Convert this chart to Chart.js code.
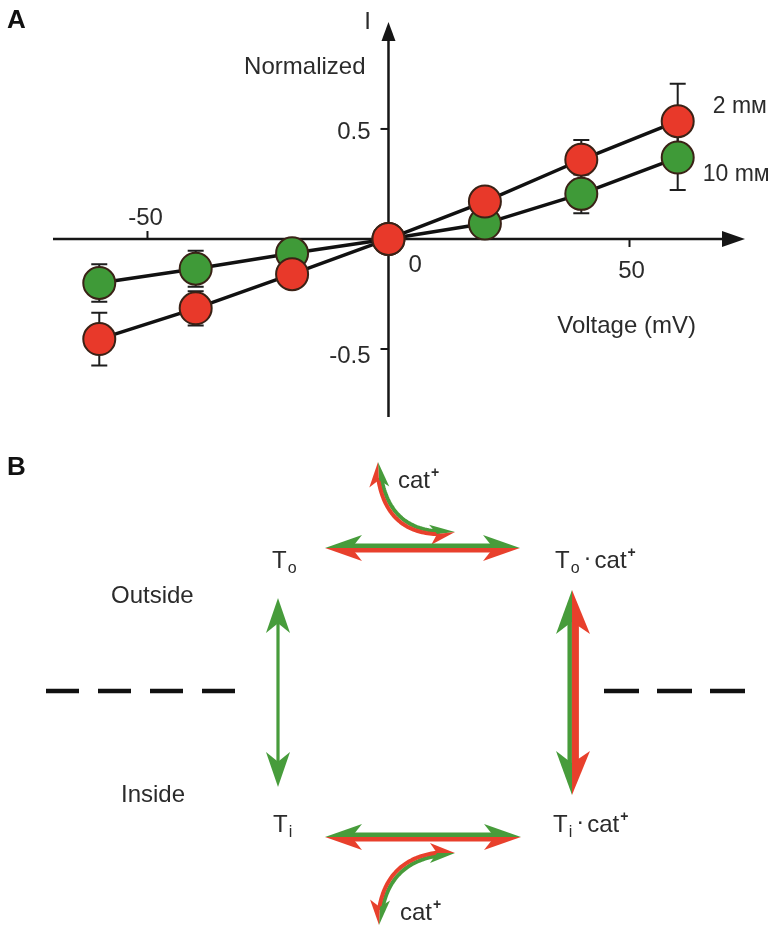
<!DOCTYPE html>
<html><head><meta charset="utf-8">
<script src="https://cdn.jsdelivr.net/npm/chart.js@4.4.1/dist/chart.umd.min.js"></script>
<style>html,body{margin:0;padding:0;background:#fff;} #wrap{width:775px;height:928px;position:relative;}</style>
</head><body><div id="wrap"><canvas id="c" width="775" height="928"></canvas></div>
<script>
// ---------- Panel A data ----------
const voltages = [-60, -40, -20, 0, 20, 40, 60];
const current2mM = [-0.455, -0.315, -0.16, 0, 0.17, 0.36, 0.535];
const current10mM = [-0.20, -0.135, -0.065, 0, 0.07, 0.205, 0.37];
const err2mM = [0.12, 0.078, 0.03, 0, 0.03, 0.09, 0.17];
const err10mM = [0.085, 0.082, 0.03, 0, 0.03, 0.088, 0.148];
const seriesLabels = ['2 mᴍ', '10 mᴍ'];
const xTicks = [-50, 0, 50];
const yTicks = [-0.5, 0.5];
const xTitle = 'Voltage (mV)';
const yTitle = ['I', 'Normalized'];

const FONT = '"Liberation Sans", Arial, Helvetica, sans-serif';
const TXT = '#2b2b2b';
const RED = '#e8402c', GREEN = '#479c3b';
const RED_PT = '#e8392a', GREEN_PT = '#3f9a38', PT_EDGE = '#3a2216';

function txt(ctx, s, x, y, size, align, weight, color) {
  ctx.font = (weight || 'normal') + ' ' + size + 'px ' + FONT;
  ctx.textAlign = align || 'left';
  ctx.textBaseline = 'alphabetic';
  ctx.fillStyle = color || TXT;
  ctx.fillText(s, x, y);
  return ctx.measureText(s).width;
}

// ---------- Panel B helpers ----------
function head(ctx, tx, ty, dx, dy, wx, wy, L, W, color) {
  ctx.fillStyle = color;
  ctx.beginPath();
  ctx.moveTo(tx, ty);
  ctx.lineTo(tx - dx * L + wx * W, ty - dy * L + wy * W);
  ctx.lineTo(tx - dx * L * 0.72, ty - dy * L * 0.72);
  ctx.closePath();
  ctx.fill();
}
function straight(ctx, x1, y1, x2, y2, parts, L, W) {
  const len = Math.hypot(x2 - x1, y2 - y1);
  const dx = (x2 - x1) / len, dy = (y2 - y1) / len;
  const nx = -dy, ny = dx;
  parts.forEach(p => {
    ctx.strokeStyle = p.color; ctx.lineWidth = p.width; ctx.lineCap = 'butt';
    ctx.beginPath();
    ctx.moveTo(x1 + dx * L * 0.6 + nx * p.off, y1 + dy * L * 0.6 + ny * p.off);
    ctx.lineTo(x2 - dx * L * 0.6 + nx * p.off, y2 - dy * L * 0.6 + ny * p.off);
    ctx.stroke();
  });
  parts.forEach(p => {
    const sides = p.off === 0 ? [1, -1] : [Math.sign(p.off)];
    sides.forEach(s => {
      head(ctx, x2, y2, dx, dy, nx * s, ny * s, L, p.W || W, p.color);
      head(ctx, x1, y1, -dx, -dy, nx * s, ny * s, L, p.W || W, p.color);
    });
  });
}
function curve(ctx, P0, C, P2, parts, L, W) {
  const q = (t, o) => {
    const a = (1 - t) * (1 - t), b = 2 * (1 - t) * t, c = t * t;
    return [a * (P0[0] + o[0]) + b * (C[0] + o[0]) + c * (P2[0] + o[0]),
            a * (P0[1] + o[1]) + b * (C[1] + o[1]) + c * (P2[1] + o[1])];
  };
  parts.forEach(p => {
    ctx.strokeStyle = p.color; ctx.lineWidth = p.width; ctx.lineCap = 'butt'; ctx.lineJoin = 'round';
    ctx.beginPath();
    for (let i = 0; i <= 50; i++) {
      const t = 0.1 + 0.8 * i / 50;
      const pt = q(t, p.o);
      if (i === 0) ctx.moveTo(pt[0], pt[1]); else ctx.lineTo(pt[0], pt[1]);
    }
    ctx.stroke();
  });
  const ends = [[P0, [P0[0] - C[0], P0[1] - C[1]]], [P2, [P2[0] - C[0], P2[1] - C[1]]]];
  parts.forEach(p => {
    ends.forEach(([T, d]) => {
      const l = Math.hypot(d[0], d[1]);
      const dx = d[0] / l, dy = d[1] / l;
      let wx = -dy, wy = dx;
      if (wx * p.o[0] + wy * p.o[1] < 0) { wx = -wx; wy = -wy; }
      head(ctx, T[0], T[1], dx, dy, wx, wy, L, W, p.color);
    });
  });
}
function dashed(ctx, x1, x2, y, dash, gap) {
  ctx.save();
  ctx.strokeStyle = '#111'; ctx.lineWidth = 4.5; ctx.setLineDash([dash, gap]); ctx.lineCap = 'butt';
  ctx.beginPath(); ctx.moveTo(x1, y); ctx.lineTo(x2, y); ctx.stroke();
  ctx.restore();
}
function species(ctx, x, y, sub, withCat) {
  let w = txt(ctx, 'T', x, y, 24);
  let cx = x + w + 1;
  const sw = txt(ctx, sub, cx, y + 5, 16);
  cx += sw + 4;
  if (withCat) {
    const dw = txt(ctx, '·', cx, y - 3, 24);
    cx += dw + 3;
    const cw = txt(ctx, 'cat', cx, y, 24);
    txt(ctx, '+', cx + cw + 1, y - 11, 14, 'left', 'bold');
  }
}
function catLabel(ctx, x, y) {
  const cw = txt(ctx, 'cat', x, y, 24);
  txt(ctx, '+', x + cw + 1, y - 11, 14, 'left', 'bold');
}

function drawPanelB(ctx) {
  txt(ctx, 'B', 7, 475, 26, 'left', 'bold', '#111');
  // curved exchange arrows (cat+ binding)
  curve(ctx, [378, 462], [382, 540], [455, 532],
    [{color: GREEN, width: 4, o: [1.4, -1.4]}, {color: RED, width: 4, o: [-1.4, 1.4]}], 25, 10);
  curve(ctx, [455, 853], [382, 853], [379, 925],
    [{color: GREEN, width: 4, o: [1.4, 1.4]}, {color: RED, width: 4, o: [-1.4, -1.4]}], 25, 10);
  // horizontal binding arrows
  straight(ctx, 325, 548, 520, 548,
    [{color: GREEN, width: 4.5, off: -2.3}, {color: RED, width: 4.5, off: 2.3}], 37, 13);
  straight(ctx, 325, 837, 521, 837,
    [{color: GREEN, width: 4.5, off: -2.2}, {color: RED, width: 4.5, off: 2.2}], 37, 13);
  // translocation arrows
  straight(ctx, 278, 598, 278, 787, [{color: GREEN, width: 3.2, off: 0}], 35, 12);
  straight(ctx, 572, 590, 572, 795,
    [{color: GREEN, width: 4.5, off: 2.3, W: 16}, {color: RED, width: 7, off: -3.4, W: 18}], 44, 16);
  // membrane
  dashed(ctx, 46, 237, 691, 33, 19);
  dashed(ctx, 604, 746, 691, 35, 18);
  // labels
  species(ctx, 272, 568, 'o', false);
  species(ctx, 555, 568, 'o', true);
  species(ctx, 273, 832, 'i', false);
  species(ctx, 553, 832, 'i', true);
  catLabel(ctx, 398, 488);
  catLabel(ctx, 400, 920);
  txt(ctx, 'Outside', 111, 603, 24);
  txt(ctx, 'Inside', 121, 802, 24);
}

const decor = {
  id: 'decor',
  beforeDatasetsDraw(chart) {
    const {ctx, chartArea: a, scales: {x, y}} = chart;
    const x0 = x.getPixelForValue(0), y0 = y.getPixelForValue(0);
    ctx.save();
    ctx.strokeStyle = '#161616'; ctx.fillStyle = '#161616'; ctx.lineWidth = 2.5;
    ctx.beginPath(); ctx.moveTo(a.left, y0); ctx.lineTo(a.right - 16, y0); ctx.stroke();
    ctx.beginPath(); ctx.moveTo(a.right, y0); ctx.lineTo(a.right - 23, y0 - 8); ctx.lineTo(a.right - 23, y0 + 8); ctx.closePath(); ctx.fill();
    ctx.beginPath(); ctx.moveTo(x0, a.bottom); ctx.lineTo(x0, a.top + 14); ctx.stroke();
    ctx.beginPath(); ctx.moveTo(x0, a.top); ctx.lineTo(x0 - 7, a.top + 19); ctx.lineTo(x0 + 7, a.top + 19); ctx.closePath(); ctx.fill();
    ctx.lineWidth = 2;
    xTicks.forEach(v => {
      if (v === 0) return;
      const px = x.getPixelForValue(v);
      ctx.beginPath(); ctx.moveTo(px, y0); ctx.lineTo(px, v < 0 ? y0 - 8 : y0 + 8); ctx.stroke();
    });
    yTicks.forEach(v => {
      const py = y.getPixelForValue(v);
      ctx.beginPath(); ctx.moveTo(x0, py); ctx.lineTo(x0 - 8, py); ctx.stroke();
    });
    // error bars
    ctx.strokeStyle = '#1e1e1e'; ctx.lineWidth = 2;
    [[current10mM, err10mM], [current2mM, err2mM]].forEach(([vals, errs]) => {
      vals.forEach((v, i) => {
        if (!errs[i]) return;
        const px = x.getPixelForValue(voltages[i]);
        const pt = y.getPixelForValue(v + errs[i]), pb = y.getPixelForValue(v - errs[i]);
        ctx.beginPath();
        ctx.moveTo(px, pt); ctx.lineTo(px, pb);
        ctx.moveTo(px - 8, pt); ctx.lineTo(px + 8, pt);
        ctx.moveTo(px - 8, pb); ctx.lineTo(px + 8, pb);
        ctx.stroke();
      });
    });
    ctx.restore();
  },
  afterDraw(chart) {
    const {ctx, scales: {x, y}} = chart;
    const x0 = x.getPixelForValue(0), y0 = y.getPixelForValue(0);
    ctx.save();
    txt(ctx, 'A', 7, 28, 26, 'left', 'bold', '#111');
    // tick labels
    xTicks.forEach(v => {
      const px = x.getPixelForValue(v);
      if (v < 0) txt(ctx, String(v), px - 2, y0 - 14, 24, 'center');
      else if (v === 0) txt(ctx, '0', x0 + 20, y0 + 33, 24, 'left');
      else txt(ctx, String(v), px + 2, y0 + 39, 24, 'center');
    });
    yTicks.forEach(v => {
      const py = y.getPixelForValue(v);
      txt(ctx, String(v), x0 - 18, py + (v > 0 ? 10 : 14), 24, 'right');
    });
    txt(ctx, yTitle[0], x0 - 21, 29, 24, 'center');
    txt(ctx, yTitle[1], x0 - 23, 74, 24, 'right');
    txt(ctx, xTitle, x.getPixelForValue(35), y0 + 94, 24, 'left');
    const last = voltages.length - 1;
    const lx = x.getPixelForValue(voltages[last]);
    txt(ctx, seriesLabels[0], lx + 35, y.getPixelForValue(current2mM[last]) - 8, 23, 'left');
    txt(ctx, seriesLabels[1], lx + 25, y.getPixelForValue(current10mM[last]) + 23, 23, 'left');
    drawPanelB(ctx);
    ctx.restore();
  }
};

const mk = (vals) => voltages.map((v, i) => ({x: v, y: vals[i]}));
new Chart(document.getElementById('c'), {
  type: 'scatter',
  data: {
    datasets: [
      {label: seriesLabels[0], data: mk(current2mM), showLine: true, borderColor: '#111', borderWidth: 3.5,
       pointRadius: 16, pointBackgroundColor: RED_PT, pointBorderColor: PT_EDGE, pointBorderWidth: 2, clip: false, order: 0},
      {label: seriesLabels[1], data: mk(current10mM), showLine: true, borderColor: '#111', borderWidth: 3.5,
       pointRadius: 16, pointBackgroundColor: GREEN_PT, pointBorderColor: PT_EDGE, pointBorderWidth: 2, clip: false, order: 1}
    ]
  },
  options: {
    responsive: false, animation: false, devicePixelRatio: 1,
    layout: {padding: {left: 53, right: 30, top: 22, bottom: 511}},
    plugins: {legend: {display: false}, tooltip: {enabled: false}},
    scales: {
      x: {type: 'linear', min: -69.6, max: 73.96, display: false},
      y: {type: 'linear', min: -0.809, max: 0.986, display: false}
    }
  },
  plugins: [decor]
});
</script></body></html>
